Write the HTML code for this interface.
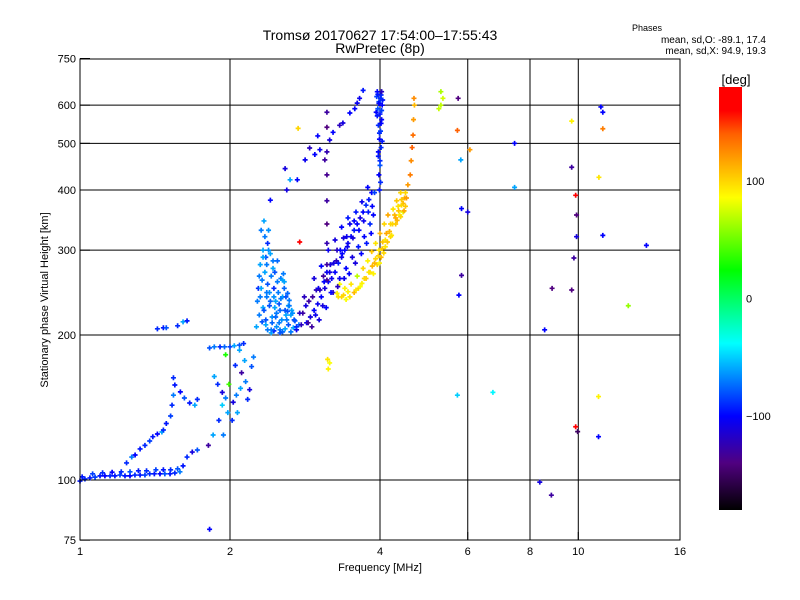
<!DOCTYPE html>
<html><head><meta charset="utf-8">
<style>
html,body{margin:0;padding:0;background:#fff;}
svg{display:block;font-family:"Liberation Sans",sans-serif;}
</style></head>
<body>
<svg id="chart" width="800" height="600" viewBox="0 0 800 600" xmlns="http://www.w3.org/2000/svg">
  <defs>
    <linearGradient id="cbar" x1="0" y1="1" x2="0" y2="0">
      <stop offset="0" stop-color="#000000"/>
      <stop offset="0.111" stop-color="#500080"/>
      <stop offset="0.222" stop-color="#0000ff"/>
      <stop offset="0.394" stop-color="#00ffff"/>
      <stop offset="0.567" stop-color="#00ff00"/>
      <stop offset="0.739" stop-color="#ffff00"/>
      <stop offset="0.889" stop-color="#ff6000"/>
      <stop offset="0.944" stop-color="#ff0000"/>
      <stop offset="1" stop-color="#ff0000"/>
    </linearGradient>
  </defs>
  <text x="380" y="40" font-size="14" text-anchor="middle">Tromsø 20170627 17:54:00–17:55:43</text>
  <text x="380" y="53" font-size="14" text-anchor="middle">RwPretec (8p)</text>
  <text x="647" y="31" font-size="9" text-anchor="middle">Phases</text>
  <text x="766" y="43" font-size="10" text-anchor="end">mean, sd,O: -89.1, 17.4</text>
  <text x="766" y="54" font-size="10" text-anchor="end">mean, sd,X:  94.9, 19.3</text>
  <g id="grid"></g>
  <g id="points"></g>
  <rect x="80" y="59" width="600" height="481" fill="none" stroke="#000" stroke-width="1"/>
  <g id="xticks"></g>
  <g id="yticks"></g>
  <text x="380" y="571" font-size="11" text-anchor="middle">Frequency [MHz]</text>
  <text x="0" y="0" font-size="11" text-anchor="middle" transform="translate(48,300) rotate(-90)">Stationary phase Virtual Height [km]</text>
  <rect x="719" y="87" width="23" height="423" fill="url(#cbar)"/>
  <text x="736" y="84" font-size="13" text-anchor="middle">[deg]</text>
  <g id="cticks"></g>
</svg>
<script>
const xTicks = [1, 2, 4, 6, 8, 10, 16];
const yTicks = [75, 100, 200, 300, 400, 500, 600, 750];
const yGrid = [100, 200, 300, 400, 500, 600];
const xGrid = [2, 4, 6, 8, 10];
const cTicks = [100, 0, -100];

const freqs = [
1.00,1.023,1.047,1.072,1.097,1.122,1.149,1.175,1.203,1.231,1.26,1.289,1.32,1.35,1.38,1.41,1.447,1.48,1.516,1.55,1.587,1.61,1.64,1.68,1.72,
1.24,1.27,1.29,1.32,1.35,1.38,1.40,1.43,1.46,1.47,1.49,1.52,1.53,1.54,1.55,1.54,1.59,1.62,1.66,1.70,1.72,
1.43,1.47,1.49,1.57,1.61,1.64,
1.82,1.86,1.91,1.95,2.0,2.04,2.09,2.13,
1.86,1.89,1.93,1.96,1.93,1.98,2.02,2.03,2.06,2.10,2.11,2.05,2.14,2.15,1.99,1.90,1.85,1.81,1.94,2.07,2.17,2.19,2.09,2.21,2.23,1.96,
2.30,2.33,2.36,2.38,2.42,2.45,2.48,2.52,2.55,2.58,2.62,2.65,2.68,2.32,2.35,2.38,2.40,2.42,2.45,2.47,2.50,2.52,2.55,2.58,2.60,2.62,2.44,2.36,2.33,2.38,2.31,2.34,2.40,2.48,2.43,2.57,2.65,2.70,2.75,2.28,2.30,2.37,2.46,2.53,2.41,2.29,2.26,2.32,
2.72,2.78,2.85,2.80,2.90,2.95,2.88,3.00,3.05,2.98,3.10,3.15,3.08,3.20,3.25,3.18,3.30,3.35,3.28,3.40,3.45,3.38,3.50,3.55,3.48,3.60,3.65,3.58,3.70,3.75,3.68,3.80,3.85,3.90,3.78,2.92,3.02,3.12,3.22,3.32,3.42,3.52,3.62,3.72,3.82,3.88,2.82,2.95,3.05,3.15,3.25,3.35,3.45,
3.95,4.02,3.98,4.04,3.96,4.0,4.03,3.97,4.01,3.99,4.02,3.97,4.0,3.98,4.01,3.99,4.03,3.94,4.05,3.93,
2.58,2.73,2.89,3.03,3.22,3.37,3.48,3.60,3.70,3.32,3.17,2.96,3.10,2.83,2.64,2.41,2.60,3.0,3.64,3.56,
3.13,3.13,3.13,3.13,3.13,3.13,3.13,3.13,3.13,
3.28,3.35,3.42,3.48,3.55,3.62,3.68,3.75,3.80,3.86,3.92,3.98,4.05,4.12,4.2,4.28,4.35,4.42,4.5,4.55,4.6,4.62,4.64,4.66,4.67,4.69,4.68,
3.70,3.78,3.85,3.92,4.0,4.08,4.15,4.25,4.32,4.4,4.45,4.38,4.3,4.2,4.1,4.02,3.95,3.88,4.45,4.5,3.6,3.5,3.4,3.32,
5.3,5.35,5.3,5.25,3.15,3.17,3.14,
5.74,5.81,5.83,6.06,6.0,5.83,5.76,5.72,6.74,7.45,7.45,8.37,8.56,8.83,8.86,9.7,9.7,9.88,9.92,9.92,9.8,9.7,9.88,9.97,11.1,11.2,11.2,11.0,11.2,12.6,13.7,10.98,10.98,1.82,2.76,2.74,5.72
];
const heights = [
99.5,100.5,101,101.4,102,102,102,102,102.4,102,102,102.4,102.4,102.4,103,103,103,103,103,103.4,104,107,111.6,114.3,115.4,
108.5,111.6,112.7,116,118,120.5,123,124.6,125.8,127,131,135.8,143,150,157.5,163,152.4,148,144.5,143,147,
206,207,207,209,213,214,
188,189,189,189,189,190,190.6,192,
164,158,152,148,143,138,133,145,150,155,167,173,177,160,158,133,124,118,124,138,147,154,186,172,180,182,
240,228,215,205,202,204,208,205,203,206,210,203,207,260,270,255,245,265,250,235,245,225,240,225,215,230,285,290,300,310,330,345,230,222,218,250,220,214,210,250,280,240,270,262,295,220,208,213,
205,210,212,222,218,225,235,232,240,248,250,258,265,262,270,280,282,290,300,300,310,318,320,330,340,340,350,360,360,372,378,382,395,395,405,208,215,228,245,262,275,290,305,320,340,355,240,262,278,300,315,335,350,
640,630,610,600,590,575,560,545,530,510,490,470,450,430,415,400,640,625,615,580,
443,420,489,485,527,551,578,606,644,545,508,474,462,462,420,381,400,518,620,590,
580,540,480,430,380,340,310,280,260,
244,240,237,240,245,250,256,262,270,278,288,300,312,325,340,355,370,382,395,410,430,460,490,520,560,600,620,
275,285,298,310,325,340,355,365,380,395,375,355,340,320,305,290,280,268,360,370,265,255,250,255,
600,620,640,590,170,175,178,
620,462,366,485,360,266,242,150,152,500,405,99,205,93,250,556,446,390,355,320,289,248,129,126,595,580,536,425,322,230,307,149,123,79,312,537,532
];
const phases = [
-95,-90,-95,-85,-95,-100,-90,-95,-85,-95,-100,-90,-95,-85,-90,-95,-100,-80,-95,-90,-70,-95,-90,-110,-80,
-90,-70,-100,-95,-90,-85,-95,-100,-60,-90,-95,-85,-90,-70,-95,-90,-100,-80,-95,-60,-90,
-90,-95,-80,-90,-60,-95,
-80,-70,-90,-75,-85,-60,-80,-90,
-60,-90,-110,-70,-50,-60,-90,-110,-70,-60,-130,-90,-60,-70,40,-90,-60,-130,-70,-60,-90,-110,-60,-80,-70,30,
-70,-60,-80,-70,-60,-90,-65,-70,-75,-60,-80,-70,-60,-70,-60,-80,-65,-70,-90,-60,-70,-75,-60,-80,-70,-60,-70,-80,-60,-90,-70,-60,-80,-70,-65,-75,-60,-80,-70,-90,-60,-70,-80,-70,-60,-70,-60,-80,
-105,-120,-100,-130,-110,-100,-130,-105,-100,-120,-110,-100,-130,-105,-100,-110,-95,-105,-120,-100,-105,-110,-100,-95,-105,-100,-110,-95,-100,-90,-105,-95,-100,-85,-100,-130,-110,-100,-120,-105,-100,-110,-95,-100,-90,-100,-120,-110,-100,-105,-110,-100,-95,
-100,-90,-85,-100,-80,-95,-100,-90,-85,-100,-90,-95,-80,-100,-90,-95,-120,-85,-95,-100,
-110,-100,-120,-105,-100,-110,-100,-105,-95,-120,-110,-100,-130,-105,-60,-100,-110,-100,-105,-100,
-130,-140,-125,-135,-130,-140,-125,-130,-135,
90,100,85,95,110,100,90,105,95,110,100,95,105,115,100,110,95,105,100,120,130,125,140,135,120,110,125,
100,90,105,95,110,100,115,95,105,100,110,90,105,100,95,110,100,90,80,105,70,95,90,85,
70,75,65,72,90,85,95,
-140,-60,-100,120,-110,-130,-100,-50,-40,-100,-60,-110,-100,-130,-140,90,-130,160,-140,-110,-130,-140,170,-150,-100,-100,130,95,-100,60,-100,90,-100,-100,160,100,140
];

// additional echoes filling the dense regions
const extraFreqs = [
1.01,1.06,1.11,1.16,1.21,1.26,1.31,1.36,1.42,1.47,1.52,1.57,
2.27,2.31,2.34,2.37,2.39,2.43,2.46,2.49,2.51,2.54,2.56,2.59,2.61,2.63,2.66,2.69,2.35,2.39,2.44,2.49,2.53,2.57,2.61,2.29,2.33,2.37,2.41,2.45,2.51,2.55,2.59,2.63,2.67,2.72,2.36,2.42,2.47,2.52,
2.76,2.84,2.93,3.01,3.09,3.17,3.27,3.36,3.44,3.53,3.63,3.71,3.79,3.86,2.87,2.97,3.07,3.19,3.29,3.39,3.47,3.57,3.67,3.76,3.84,3.03,3.13,3.23,3.33,3.43,3.55,
3.96,4.01,3.98,4.03,3.95,4.02,3.99,4.04,3.97,4.00,
3.72,3.82,3.90,3.97,4.04,4.10,4.18,4.24,4.30,4.36,4.42,4.48,4.52,3.99,4.07,4.14,4.22,4.33,4.40,4.47,3.65,3.58,3.45,3.38,3.30
];
const extraHeights = [
101.5,103,103.5,103.8,104,104,104.5,104.5,105,105,105,105.5,
235,250,225,280,300,212,228,258,232,215,268,220,244,236,225,215,320,330,275,285,238,258,224,265,290,245,235,240,212,260,240,230,222,208,210,205,218,202,
222,230,240,250,258,270,285,295,305,318,330,345,360,370,212,220,230,245,252,262,268,282,295,310,325,248,270,282,300,320,345,
632,620,605,585,570,550,525,505,480,460,
262,270,282,292,302,315,328,340,350,362,372,385,385,282,296,312,322,346,352,362,252,248,246,242,240
];
const extraPhases = [
-95,-85,-90,-100,-90,-80,-95,-90,-85,-95,-90,-80,
-70,-60,-80,-70,-65,-75,-60,-70,-80,-65,-70,-60,-75,-70,-60,-80,-70,-65,-60,-75,-70,-60,-80,-70,-60,-70,-75,-65,-70,-60,-80,-70,-65,-90,-60,-70,-75,-80,
-120,-110,-130,-105,-100,-110,-120,-100,-105,-110,-100,-105,-95,-100,-130,-105,-110,-100,-120,-105,-100,-110,-100,-95,-100,-120,-105,-110,-100,-105,-100,
-95,-90,-100,-85,-95,-100,-90,-95,-100,-90,
100,95,110,100,105,95,110,100,115,105,100,110,120,90,100,105,95,110,100,115,85,95,90,100,95
];

const X = f => 80 + 150 * Math.log2(f);
const Y = h => 480 - 145 * Math.log2(h / 100);
const stops = [[-180,[0,0,0]],[-140,[80,0,128]],[-100,[0,0,255]],[-38,[0,255,255]],[24,[0,255,0]],[86,[255,255,0]],[140,[255,96,0]],[160,[255,0,0]],[180,[255,0,0]]];
function color(p){
  for(let i=0;i<stops.length-1;i++){
    const a=stops[i], b=stops[i+1];
    if(p<=b[0]){
      const t=Math.max(0,(p-a[0])/(b[0]-a[0]));
      const c=a[1].map((v,k)=>Math.round(v+(b[1][k]-v)*t));
      return 'rgb('+c.join(',')+')';
    }
  }
  return 'rgb(255,0,0)';
}
const NS='http://www.w3.org/2000/svg';
function mk(tag, attrs, parent){
  const e=document.createElementNS(NS,tag);
  for(const k in attrs) e.setAttribute(k, attrs[k]);
  parent.appendChild(e);
  return e;
}
const grid=document.getElementById('grid');
xGrid.forEach(v=>{
  const l=mk('line',{x1:X(v),x2:X(v),y1:59,y2:540,stroke:'#000','stroke-width':1},grid);
  
  
});
yGrid.forEach(v=>{
  const l=mk('line',{x1:80,x2:680,y1:Y(v),y2:Y(v),stroke:'#000','stroke-width':1},grid);
  
  
});
const xt=document.getElementById('xticks');
xTicks.forEach(v=>{
  const t=mk('text',{x:X(v),y:555,'font-size':11,'text-anchor':'middle'},xt);
  t.textContent=v;
  
  
  const m=mk('line',{x1:X(v),x2:X(v),y1:540,y2:532,stroke:'#000'},xt);
  
  
});
const yt=document.getElementById('yticks');
yTicks.forEach(v=>{
  const t=mk('text',{x:76,y:Y(v)+4,'font-size':11,'text-anchor':'end'},yt);
  t.textContent=v;
  
  
  const m=mk('line',{x1:80,x2:90,y1:Y(v),y2:Y(v),stroke:'#000'},yt);
  
  
});
const ct=document.getElementById('cticks');
cTicks.forEach(v=>{
  const y=298.5-(v/180)*211.5;
  const t=mk('text',{x:746,y:y+4,'font-size':11},ct);
  t.textContent=v===-100?'−100':String(v);
  
  
});
const pts=document.getElementById('points');
function drawSet(F,H,P){
  for(let i=0;i<F.length;i++){
    const x=X(F[i]), y=Y(H[i]), c=color(P[i]);
    const g=mk('path',{d:'M'+(x-2.5)+' '+y+'h5M'+x+' '+(y-2.5)+'v5',stroke:c,'stroke-width':1.7,fill:'none'},pts);
    
    
  }
}
drawSet(freqs,heights,phases);
drawSet(extraFreqs,extraHeights,extraPhases);
</script>
</body></html>
